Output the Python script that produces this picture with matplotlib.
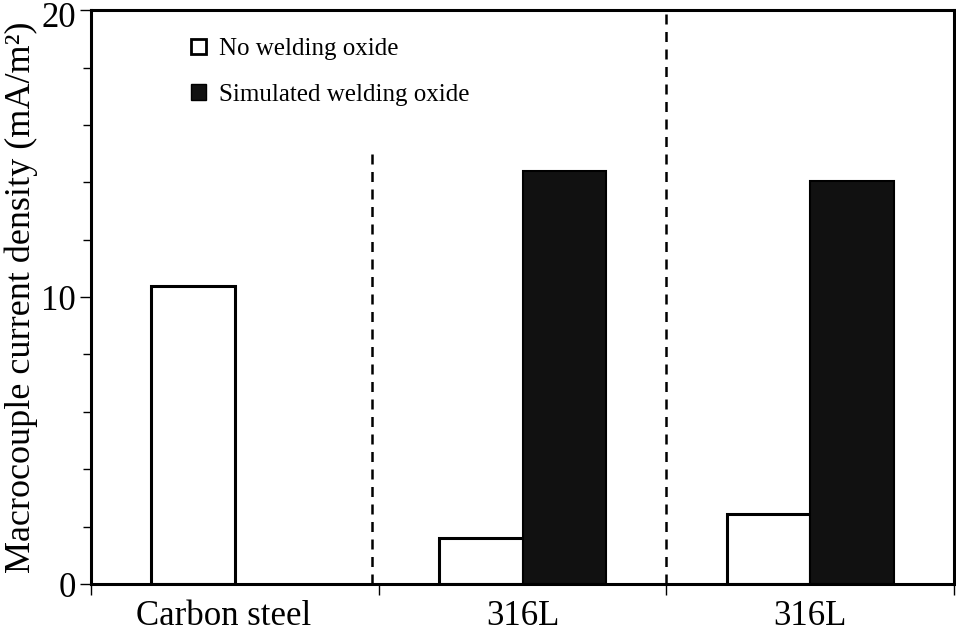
import matplotlib.pyplot as plt
import matplotlib.transforms as mtransforms
from matplotlib.patches import Patch

groups = ["Carbon steel", "316L", "316L"]
no_oxide = [10.4, 1.6, 2.45]
sim_oxide = [None, 14.4, 14.05]
names = ["No welding oxide", "Simulated welding oxide"]

plt.rcParams['font.family'] = ['Liberation Serif', 'DejaVu Serif']

fig = plt.figure(figsize=(9.56, 6.33), dpi=100)
ax = fig.add_axes([0.0952, 0.0774, 0.9028, 0.9066])

w = 0.29
for i, g in enumerate(groups):
    c = i + 0.5
    ax.bar(c - w, no_oxide[i], width=w, align='edge', color='white', edgecolor='black', linewidth=2.2)
    if sim_oxide[i] is not None:
        ax.bar(c, sim_oxide[i], width=w, align='edge', color='#111111', edgecolor='black', linewidth=1.5)

# group separators
ax.plot([0.977, 0.977], [0, 15.1], ls=(0, (4, 3)), color='black', lw=1.8)
ax.plot([2.0, 2.0], [0, 20], ls=(0, (4, 3)), color='black', lw=1.8)

ax.set_xlim(0, 3)
ax.set_ylim(0, 20)
ax.set_xticks([0, 1, 2, 3])
ax.set_xticklabels([])
ax.tick_params(axis='x', direction='out', length=8, width=1)
for i, g in enumerate(groups):
    x = 0.46 if i == 0 else i + 0.5
    ax.text(x, -0.55, g, ha='center', va='top', fontsize=25)

ax.set_yticks([0, 10, 20])
ax.set_yticks([2, 4, 6, 8, 12, 14, 16, 18], minor=True)
ax.tick_params(axis='y', which='major', direction='out', length=8, width=1, labelsize=25, pad=3)
ax.tick_params(axis='y', which='minor', direction='out', length=6, width=1)
ax.set_ylabel("Macrocouple current density (mA/m²)", fontsize=26, labelpad=2)

# nudge the top tick label down so it stays inside the figure
top = ax.get_yticklabels()[-1]
top.set_transform(top.get_transform() + mtransforms.ScaledTranslation(0, -3 / 72, fig.dpi_scale_trans))

for s in ax.spines.values():
    s.set_linewidth(2.2)

handles = [Patch(facecolor='white', edgecolor='black', linewidth=2),
           Patch(facecolor='#111111', edgecolor='black')]
ax.legend(handles, names, loc='upper left', bbox_to_anchor=(0.09, 0.99), frameon=False,
          fontsize=18, handlelength=0.6, handleheight=0.6, handletextpad=0.5, labelspacing=0.95)

plt.savefig("out.png", dpi=100)
